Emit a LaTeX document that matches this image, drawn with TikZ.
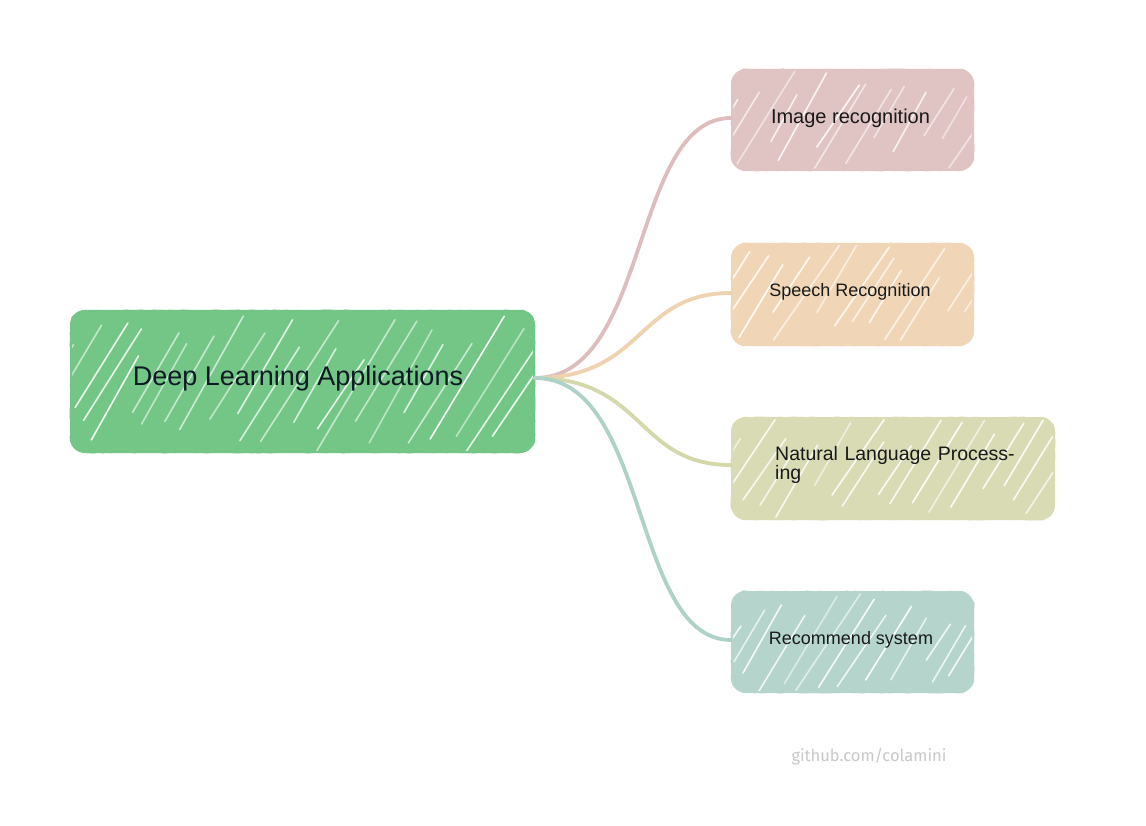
\documentclass[tikz,border=0pt]{standalone}
\usepackage{fontspec}
\setmainfont{Liberation Sans}
\newfontfamily\wmfont{Fira Sans}
\usetikzlibrary{decorations.pathmorphing}
\pgfdeclarelayer{paper}
\pgfdeclarelayer{back}
\pgfsetlayers{paper,back,main}
\definecolor{cRoot}{HTML}{73C686}
\definecolor{cImg}{HTML}{E0C3C3}
\definecolor{cSpe}{HTML}{F0D6B6}
\definecolor{cNlp}{HTML}{D8DBB3}
\definecolor{cRec}{HTML}{B4D4CC}
\definecolor{lImg}{HTML}{DDBDBD}
\definecolor{lSpe}{HTML}{EFD2AF}
\definecolor{lNlp}{HTML}{D5D8AB}
\definecolor{lRec}{HTML}{AED2C8}
\definecolor{tDark}{HTML}{0E1A24}
\definecolor{wmgray}{HTML}{C9C9C9}
\tikzset{
  boxtext/.style={inner sep=0pt, outer sep=0pt, align=center},
  conn/.style={line width=3.8pt, line cap=round},
  rough/.style={line width=1.8pt, decorate,
     decoration={random steps, segment length=4pt, amplitude=0.6pt}}
}
% #1 node, #2 colour, #3 x1, #4 y1 (top), #5 x2, #6 y2 (bottom)
\newcommand\sketchbox[6]{%
  \fill[#2, rounded corners=15pt] (#3,#4) rectangle (#5,#6);
  \begin{scope}
    \clip[rounded corners=14pt] (#3+2,#4+2) rectangle (#5-2,#6-2);
    \pgfmathsetmacro\hh{#6-#4}
    \pgfmathtruncatemacro\nn{(#5-#3+0.65*\hh)/21}
    \foreach \k in {0,...,\nn}{
      \pgfmathsetmacro\xs{#3-0.65*\hh+\k*21+rnd*10}
      \pgfmathsetmacro\op{0.5+0.45*rnd}
      \pgfmathsetmacro\fa{0.35*rnd}
      \pgfmathsetmacro\fb{0.65+0.35*rnd}
      \pgfmathsetmacro\sl{0.55+0.15*rnd}
      \draw[white, line width=1.6pt, opacity=\op, line cap=round]
        (\xs+\fa*\sl*\hh,#6-\fa*\hh) -- (\xs+\fb*\sl*\hh,#6-\fb*\hh);
    }
  \end{scope}
  \draw[#2, rough]
    (#3+16,#4+1) -- (#5-16,#4+1)
    .. controls (#5-8,#4+1) and (#5-1,#4+8) .. (#5-1,#4+16)
    -- (#5-1,#6-16)
    .. controls (#5-1,#6-8) and (#5-8,#6-1) .. (#5-16,#6-1)
    -- (#3+16,#6-1)
    .. controls (#3+8,#6-1) and (#3+1,#6-8) .. (#3+1,#6-16)
    -- (#3+1,#4+16)
    .. controls (#3+1,#4+8) and (#3+8,#4+1) .. (#3+16,#4+1) -- cycle;
}
\begin{document}
\begin{tikzpicture}[x=1pt,y=-1pt]
\pgfmathsetseed{11}
\useasboundingbox (0,0) rectangle (1146,826);
\begin{pgfonlayer}{paper}
\fill[white] (0,0) rectangle (1146,826);
\end{pgfonlayer}

\node[boxtext, minimum width=465pt, minimum height=143pt, text=tDark,
      font=\fontsize{27}{30}\selectfont] (root) at (298,379) {Deep Learning Applications};
\node[boxtext, minimum width=243pt, minimum height=102pt, text=black!90,
      font=\fontsize{20}{22}\selectfont] (img) at (850.5,118) {Image recognition};
\node[boxtext, minimum width=243pt, minimum height=103pt, text=black!90,
      font=\fontsize{18}{20}\selectfont] (spe) at (850,292) {Speech Recognition};
\node[boxtext, minimum width=324pt, minimum height=103pt] (nlp) at (893,468.5) {};
\node[inner sep=0pt, text width=270pt, align=left, text=black!90, anchor=west,
      font=\fontsize{19.5}{19.5}\selectfont] (nlptext) at (775,465) {Natural Language Process-\\ing};
\node[boxtext, minimum width=243pt, minimum height=102pt, text=black!90,
      font=\fontsize{18}{20}\selectfont] (rec) at (851,640) {Recommend system};

\node[text=wmgray, font=\wmfont\fontsize{16.5}{18}\selectfont] (wm) at (869,757) {github.com/colamini};

\begin{pgfonlayer}{back}
  \sketchbox{root}{cRoot}{70}{310}{535}{453}
  \sketchbox{img}{cImg}{731}{69}{974}{171}
  \sketchbox{spe}{cSpe}{731}{243}{974}{346}
  \sketchbox{nlp}{cNlp}{731}{417}{1055}{520}
  \sketchbox{rec}{cRec}{731}{591}{974}{693}
\end{pgfonlayer}

\coordinate (rootout) at (535,378);
\draw[conn, lImg] (rootout) .. controls +(115,0) and +(-100,0) .. (731,118);
\draw[conn, lSpe] (rootout) .. controls +(110,0) and +(-95,0) .. (731,293);
\draw[conn, lNlp] (rootout) .. controls +(110,0) and +(-95,0) .. (731,465);
\draw[conn, lRec] (rootout) .. controls +(115,0) and +(-100,0) .. (731,640);
\end{tikzpicture}
\end{document}
